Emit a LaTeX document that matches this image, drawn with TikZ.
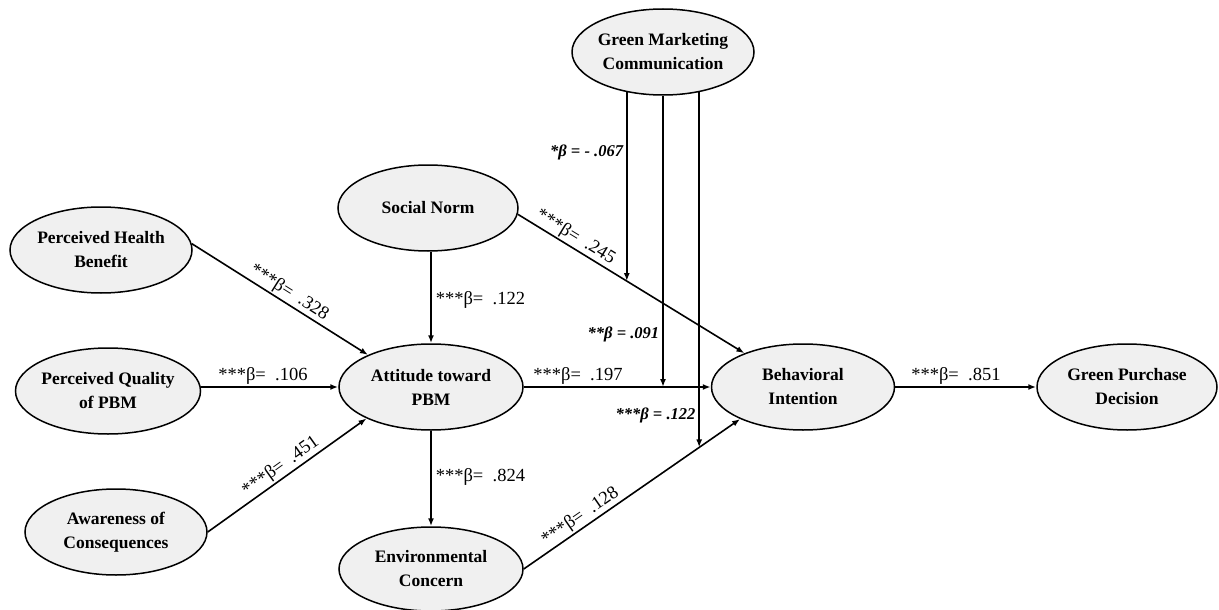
\documentclass[tikz,border=0pt]{standalone}
\usepackage{fontspec}
\setmainfont{Liberation Serif}
\usetikzlibrary{shapes.geometric, arrows.meta, intersections, calc}
\definecolor{ellfill}{HTML}{F0F0F0}
\begin{document}
\begin{tikzpicture}[x=1pt,y=-1pt,
  var/.style={ellipse, draw=black, line width=1.5pt, fill=ellfill, minimum width=182pt, minimum height=86pt, inner sep=-12pt, align=center, font=\fontsize{17.5}{24}\selectfont\bfseries},
  arr/.style={line width=1.6pt, -{Latex[length=8pt,width=6pt]}},
  coef/.style={font=\fontsize{18.5}{20}\selectfont, inner sep=1.5pt},
  bcoef/.style={font=\fontsize{16.5}{18}\selectfont\bfseries\itshape, inner sep=3pt},
]
\useasboundingbox (0,0) rectangle (1219,610);

\node[var] (gmc) at (663,52) {Green Marketing\\Communication};
\node[var, minimum width=180pt] (sn) at (428,208) {Social Norm};
\node[var] (phb) at (101,250) {Perceived Health\\Benefit};
\node[var, minimum width=185pt] (pq) at (108,391) {Perceived Quality\\of PBM};
\node[var] (aoc) at (116,532) {Awareness of\\Consequences};
\node[var, minimum width=184pt] (att) at (431,387) {Attitude toward\\PBM};
\node[var, minimum width=184pt, minimum height=84pt] (ec) at (431,569) {Environmental\\Concern};
\node[var, minimum width=183pt] (bi) at (803,387) {Behavioral\\Intention};
\node[var, minimum width=180pt] (gpd) at (1127,387) {Green Purchase\\Decision};

\draw[arr] (phb.4) -- node[coef, pos=0.52, sloped, above] {***β=~~.328} (att.153);
\draw[arr] (pq.east |- att.west) -- node[coef, pos=0.45, above] {***β=~~.106} (att.west);
\draw[arr] (aoc.east) -- node[coef, pos=0.5, sloped, above] {***β=~~.451} (att.206);
\draw[arr] (att.north |- sn.south) -- node[coef, pos=0.53, right, inner sep=4pt] {***β=~~.122} (att.north);
\draw[arr] (att.south) -- node[coef, pos=0.48, right, inner sep=4pt] {***β=~~.824} (ec.north);
\draw[arr, name path=snbi] (sn.-4) -- node[coef, pos=0.23, sloped, above] {***β=~~.245} (bi.150);
\draw[arr, name path=attbi] (att.east) -- node[coef, pos=0.29, above] {***β=~~.197} (bi.west);
\draw[arr, name path=ecbi] (ec.east) -- node[coef, pos=0.29, sloped, above] {***β=~~.128} (bi.207);
\draw[arr] (bi.east) -- node[coef, pos=0.43, above] {***β=~~.851} (gpd.west);

\path[name path=v1] (gmc.228) -- ++(0,600);
\path[name intersections={of=v1 and snbi, by=m1}];
\draw[arr] (gmc.228) -- node[bcoef, pos=0.32, left] {*β = - .067} (m1);
\draw[arr] (gmc.south) -- node[bcoef, pos=0.82, left] {**β = .091} (gmc.south |- att.east);
\path[name path=v3] (gmc.312) -- ++(0,600);
\path[name intersections={of=v3 and ecbi, by=m3}];
\draw[arr] (gmc.312) -- node[bcoef, pos=0.91, left] {***β = .122} (m3);
\end{tikzpicture}
\end{document}
